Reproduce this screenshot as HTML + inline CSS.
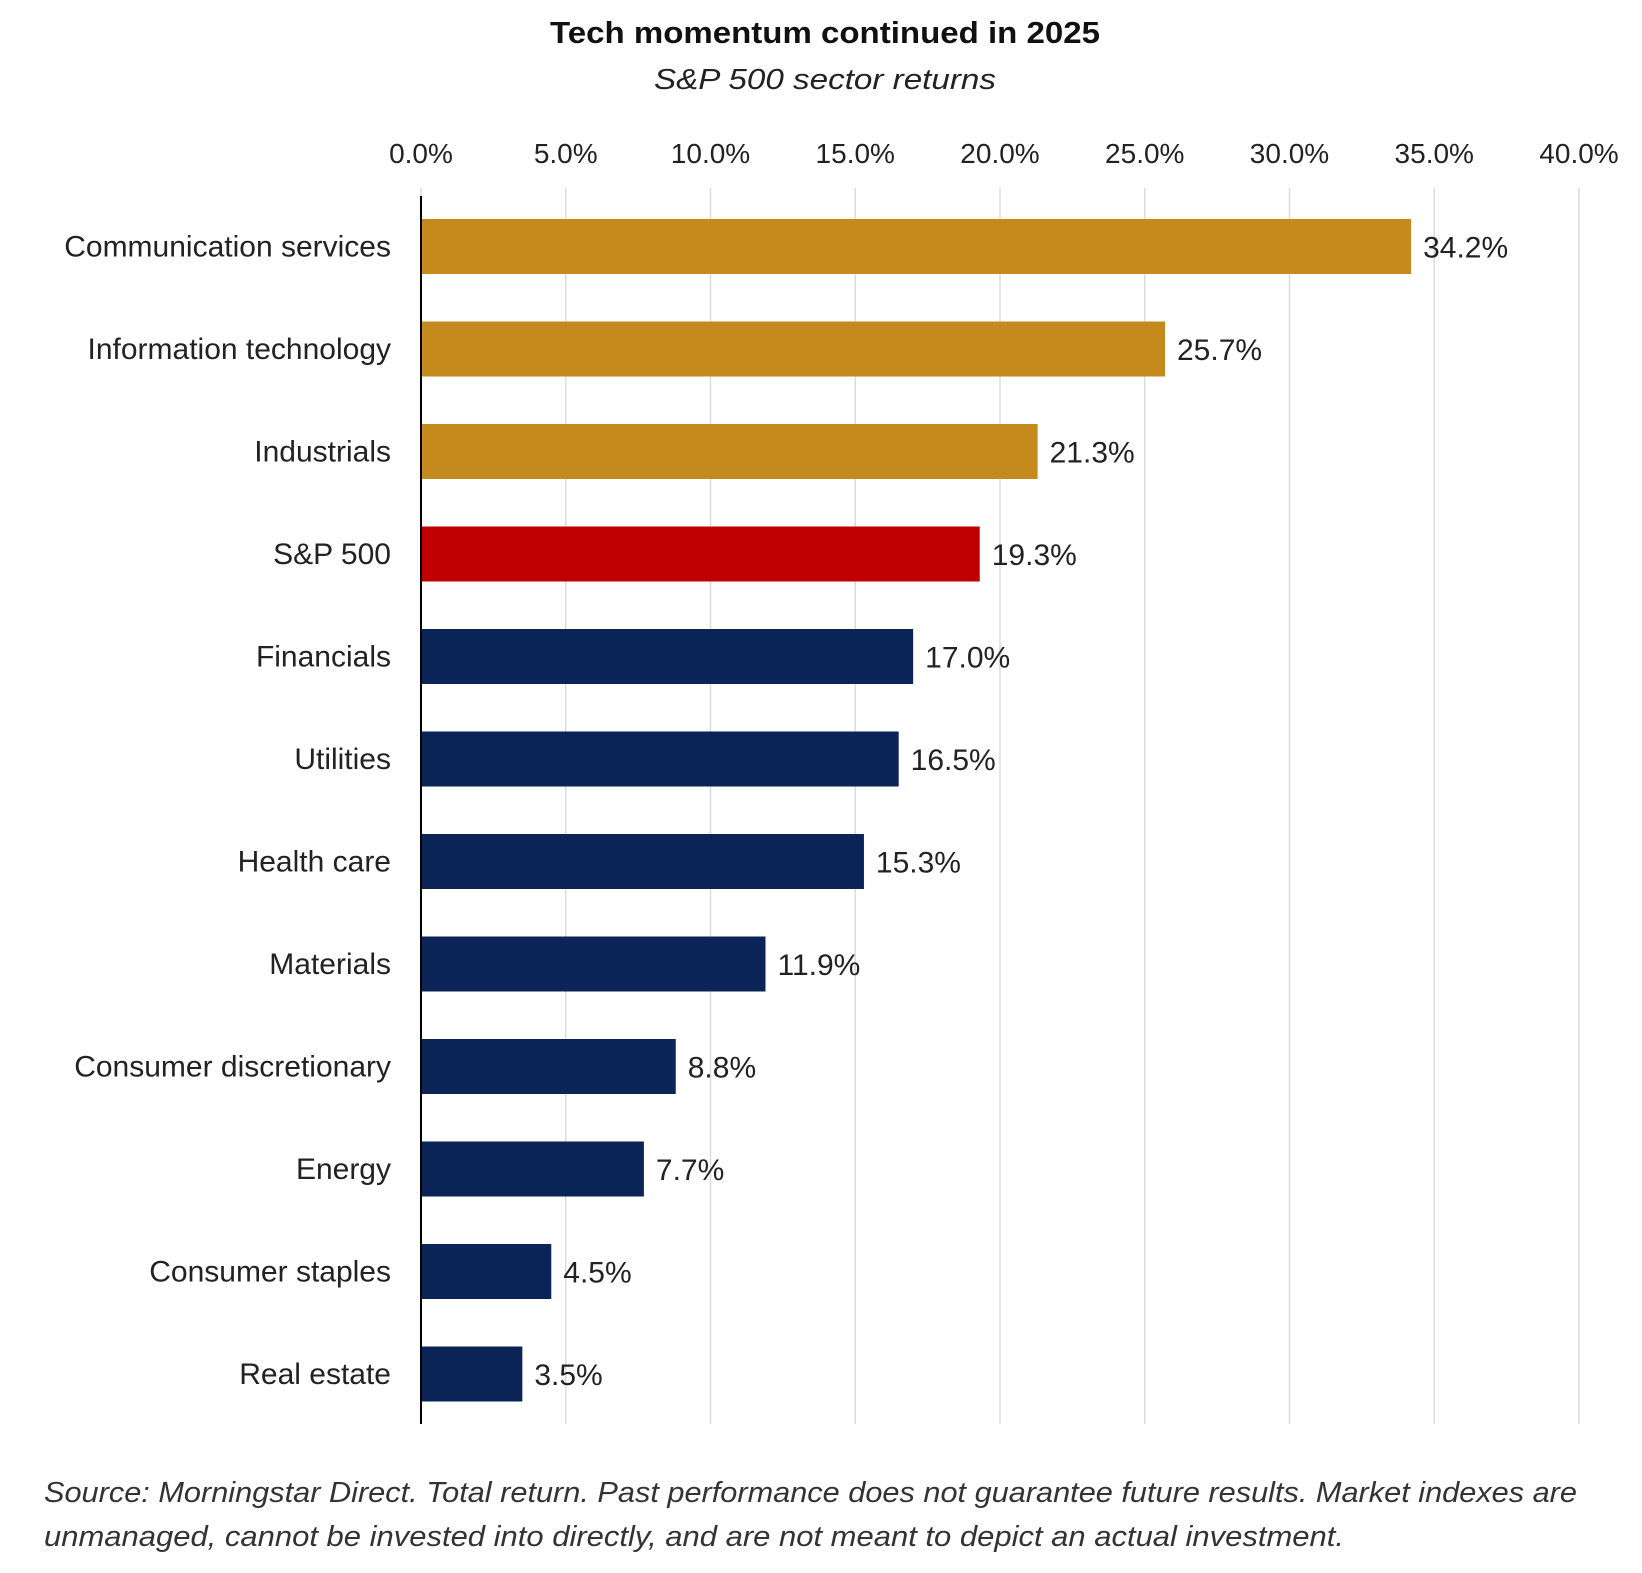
<!DOCTYPE html>
<html><head><meta charset="utf-8"><style>
html,body{margin:0;padding:0;background:#fff;}
svg text{font-family:"Liberation Sans",sans-serif;}
</style></head><body>
<svg id="chart" width="1642" height="1568" viewBox="0 0 1642 1568" xmlns="http://www.w3.org/2000/svg">
<text x="825" y="43" text-anchor="middle" font-size="31" font-weight="bold" fill="#111" textLength="550" lengthAdjust="spacingAndGlyphs">Tech momentum continued in 2025</text>
<text x="825" y="89" text-anchor="middle" font-size="29" font-style="italic" fill="#222" textLength="342" lengthAdjust="spacingAndGlyphs">S&amp;P 500 sector returns</text>
<g id="grid"></g>
<g id="ticks"></g>
<g id="bars"></g>
<line x1="421" y1="196" x2="421" y2="1424" stroke="#000" stroke-width="2"/>
<text x="44" y="1502" font-size="29" font-style="italic" fill="#333" textLength="1533" lengthAdjust="spacingAndGlyphs">Source: Morningstar Direct. Total return. Past performance does not guarantee future results. Market indexes are</text>
<text x="44" y="1546" font-size="29" font-style="italic" fill="#333" textLength="1300" lengthAdjust="spacingAndGlyphs">unmanaged, cannot be invested into directly, and are not meant to depict an actual investment.</text>
</svg>
<script>
const categories = ["Communication services","Information technology","Industrials","S&P 500","Financials","Utilities","Health care","Materials","Consumer discretionary","Energy","Consumer staples","Real estate"];
const values = [34.2,25.7,21.3,19.3,17.0,16.5,15.3,11.9,8.8,7.7,4.5,3.5];
const groups = ["tech","tech","tech","index","other","other","other","other","other","other","other","other"];
const tickValues = [0,5,10,15,20,25,30,35,40];

const NS="http://www.w3.org/2000/svg";
const x0=421, x1=1579, xMax=40;
const xs=v=>x0+(v/xMax)*(x1-x0);
const barTop0=219, step=102.5, barH=55;
const ys=i=>barTop0+i*step;
const colors={tech:"#C48A1E",index:"#C00000",other:"#0A2458"};
function mk(tag,attrs,parent){const e=document.createElementNS(NS,tag);for(const k in attrs)e.setAttribute(k,attrs[k]);parent.appendChild(e);return e;}
const grid=document.getElementById('grid'), ticks=document.getElementById('ticks'), bars=document.getElementById('bars');
tickValues.forEach(t=>{
  const l=mk('line',{x1:xs(t),x2:xs(t),y1:188,y2:1424,stroke:"#dcdcdc","stroke-width":1.5},grid);
  
  
  const tx=mk('text',{x:xs(t),y:163,"text-anchor":"middle","font-size":28,fill:"#222"},ticks);
  tx.textContent=t.toFixed(1)+"%";
  
  
});
categories.forEach((c,i)=>{
  const y=ys(i);
  const r=mk('rect',{x:x0,y:y,width:xs(values[i])-x0,height:barH,fill:colors[groups[i]]},bars);
  
  
  const lab=mk('text',{x:391,y:y+barH/2+10,"text-anchor":"end","font-size":30,fill:"#222"},bars);
  lab.textContent=c;
  
  
  const v=mk('text',{x:xs(values[i])+12,y:y+barH/2+11,"font-size":30,fill:"#222"},bars);
  v.textContent=values[i].toFixed(1)+"%";
  
  
});
</script>
</body></html>
